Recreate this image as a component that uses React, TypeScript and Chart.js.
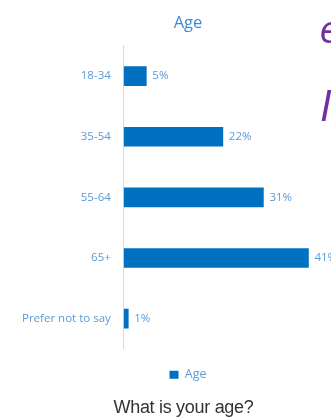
import React, { useEffect, useRef } from "react";
import { Chart, registerables } from "chart.js";

Chart.register(...registerables);

const categories = ["18-34", "35-54", "55-64", "65+", "Prefer not to say"];
const seriesName = "Age";
const values = [5, 22, 31, 41, 1];
const chartTitle = "Age";
const caption = "What is your age?";
const sideLetters = ["e", "l"];

const BAR = "#0070C0";
const LIGHT = "#5B9BD5";

const valueLabels = {
  id: "valueLabels",
  afterDatasetsDraw(chart: any) {
    const { ctx } = chart;
    const meta = chart.getDatasetMeta(0);
    ctx.save();
    ctx.font = "11.5px 'Open Sans'";
    ctx.fillStyle = LIGHT;
    ctx.textAlign = "left";
    ctx.textBaseline = "middle";
    meta.data.forEach((bar: any, i: number) => {
      ctx.fillText(values[i] + "%", bar.x + 6, bar.y);
    });
    ctx.restore();
  },
};

export default function App() {
  const ref = useRef<HTMLCanvasElement>(null);
  useEffect(() => {
    const chart = new Chart(ref.current!, {
      type: "bar",
      data: {
        labels: categories,
        datasets: [
          {
            label: seriesName,
            data: values,
            backgroundColor: BAR,
            borderColor: BAR,
            borderWidth: 0,
            barThickness: 19,
          },
        ],
      },
      plugins: [valueLabels],
      options: {
        indexAxis: "y",
        responsive: false,
        animation: false,
        layout: { padding: { left: 9, right: 9, top: 0, bottom: 6 } },
        scales: {
          x: {
            display: true,
            min: 0,
            max: 54,
            grid: { display: false, drawTicks: false },
            border: { display: false },
            ticks: { color: "rgba(0,0,0,0)", font: { size: 8 }, padding: 0, maxRotation: 0 },
          },
          y: {
            grid: { display: false, drawTicks: false },
            border: { display: true, color: "#D9D9D9", width: 1 },
            ticks: {
              color: LIGHT,
              font: { family: "Open Sans", size: 11.5 },
              padding: 13,
            },
          },
        },
        plugins: {
          title: {
            display: true,
            text: chartTitle,
            color: "#3B8BD9",
            font: { family: "Open Sans", size: 16.5, weight: "normal" },
            padding: { top: 13, bottom: 13 },
          },
          legend: {
            position: "bottom",
            labels: {
              color: LIGHT,
              font: { family: "Open Sans", size: 12.5 },
              boxWidth: 9,
              boxHeight: 8,
              padding: 10,
            },
          },
          tooltip: { enabled: false },
        },
      },
    } as any);
    return () => chart.destroy();
  }, []);

  return (
    <div
      style={{
        position: "fixed",
        left: 0,
        top: 0,
        width: 331,
        height: 419,
        overflow: "hidden",
        background: "#fff",
      }}
    >
      <canvas ref={ref} width={376} height={397} style={{ position: "absolute", left: 0, top: 0 }} />
      <div
        style={{
          position: "absolute",
          left: 0,
          width: 367,
          top: 396,
          textAlign: "center",
          fontFamily: "Liberation Sans",
          fontSize: 18,
          letterSpacing: -0.3,
          color: "#333",
          lineHeight: "22px",
          whiteSpace: "nowrap",
        }}
      >
        {caption}
      </div>
      <div
        style={{
          position: "absolute",
          left: 320,
          top: 5,
          fontFamily: "Liberation Sans",
          fontStyle: "italic",
          fontSize: 38,
          color: "#7030A0",
          lineHeight: "50px",
        }}
      >
        {sideLetters[0]}
      </div>
      <div
        style={{
          position: "absolute",
          left: 321,
          top: 82,
          fontFamily: "Liberation Sans",
          fontStyle: "italic",
          fontSize: 42,
          color: "#7030A0",
          lineHeight: "50px",
        }}
      >
        {sideLetters[1]}
      </div>
    </div>
  );
}
